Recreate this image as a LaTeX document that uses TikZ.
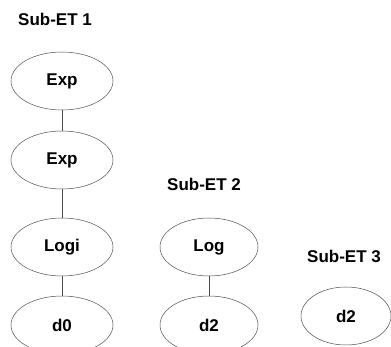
\documentclass[tikz,border=0pt]{standalone}
\usepackage{fontspec}
\setmainfont{Liberation Sans}
\usetikzlibrary{shapes.geometric}
\tikzset{
  etnode/.style={ellipse, draw=black!70, line width=0.5pt, minimum width=102pt, minimum height=58pt, inner sep=0pt, font=\fontsize{17}{20}\selectfont\bfseries},
  ettitle/.style={font=\fontsize{17}{20}\selectfont\bfseries, inner sep=0pt},
  etedge/.style={draw=black!70, line width=0.5pt}
}
\begin{document}
\begin{tikzpicture}[x=1pt, y=-1pt]
  \useasboundingbox (0,0) rectangle (391,347);
  \begin{scope}
  \clip (0,0) rectangle (391,347);
  % Sub-ET 1
  \node[ettitle] (t1) at (55,19) {Sub-ET 1};
  \node[etnode] (a1) at (62,81) {Exp};
  \node[etnode] (a2) at (62,160) {Exp};
  \node[etnode] (a3) at (62,247) {Logi};
  \node[etnode] (a4) at (62,325) {d0};
  \draw[etedge] (a1) -- (a2);
  \draw[etedge] (a2) -- (a3);
  \draw[etedge] (a3) -- (a4);
  % Sub-ET 2
  \node[ettitle] (t2) at (204,184) {Sub-ET 2};
  \node[etnode, minimum width=98pt] (b1) at (209,247) {Log};
  \node[etnode, minimum width=98pt] (b2) at (209,325) {d2};
  \draw[etedge] (b1) -- (b2);
  % Sub-ET 3
  \node[ettitle] (t3) at (344,256) {Sub-ET 3};
  \node[etnode, minimum width=90pt] (c1) at (346,316) {d2};
  \end{scope}
\end{tikzpicture}
\end{document}
